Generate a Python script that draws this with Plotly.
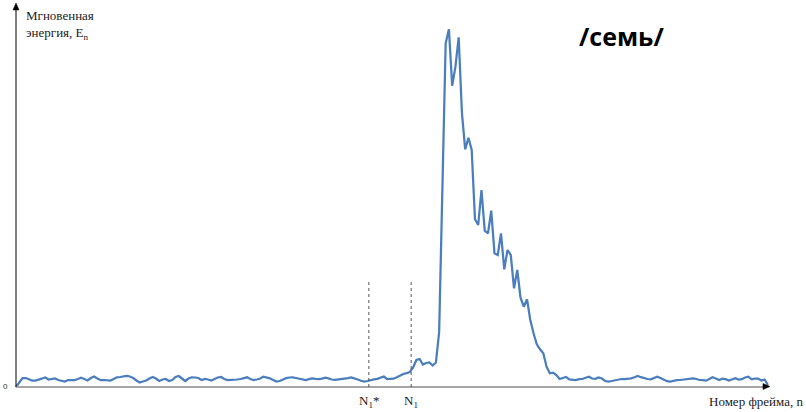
import numpy as np
import plotly.graph_objects as go

# Instantaneous frame energy (arbitrary units), one value per frame
energy = [
    0, 4, 9, 9, 7.5, 6.5, 6.5, 7.5, 8.5, 9.5,
    7.5, 8, 8.5, 7, 6, 5.5, 7, 7, 7, 8,
    9.3, 8, 6.5, 9, 10.5, 8.5, 7, 7, 7, 6.5,
    8, 9.7, 10, 10.5, 11, 10.5, 9, 6.5, 4.5, 5.5,
    6.5, 8.5, 10, 8.5, 6, 7.5, 8, 6, 7, 10,
    11, 8.5, 6, 8.5, 9.7, 9.5, 9, 7, 8, 7.5,
    6.5, 8, 9.5, 10, 8, 7, 7, 7, 7.5, 8,
    8.8, 9.7, 8, 7, 7.5, 8.5, 10.3, 9.5, 8.7, 7,
    5.5, 6, 7.5, 8.8, 9.5, 9.7, 9, 8.3, 7.5, 7,
    7.8, 8.7, 8.2, 7.8, 8.3, 9.3, 8.6, 7.5, 7.2, 7.5,
    7.8, 8.3, 8.8, 9.5, 8.8, 7.5, 6.2, 5.3, 6, 7.2,
    7.6, 8.2, 9, 10.5, 8, 8, 8.3, 9.7, 11.5, 13,
    13.8, 15, 19.5, 27, 28, 22.5, 24, 24.5, 21.5, 24.5,
    55, 185, 343.7, 357.7, 301.3, 320.3, 349.7, 274, 237.7, 249.3,
    237, 167.7, 162, 197, 156.3, 153.7, 176.3, 133.7, 132, 153.7,
    117.7, 137, 132, 98.7, 117, 89.3, 80.3, 87.7, 67, 53.7,
    42.7, 37.7, 33.7, 20.3, 13.7, 14.3, 12, 8, 8.7, 10,
    7.7, 7.2, 7, 7.8, 8, 9.3, 10.3, 8.5, 8.2, 9.5,
    8.5, 6, 5.5, 6, 6.8, 7.6, 8, 8, 8.3, 8.7,
    9.8, 11, 9.8, 8.5, 8, 7.7, 9, 10.3, 9, 7.5,
    5.8, 5.5, 6.3, 6.8, 7, 7.5, 8, 8.3, 8.7, 8,
    7, 6.8, 6.3, 8, 9.7, 8.5, 7, 8.3, 7.8, 6.5,
    7.5, 8.7, 7.5, 7.8, 9.5, 10.3, 7.7, 8.5, 8.5, 6.5,
    7.5, 2,
]
frames = list(range(len(energy)))

# Marked frames: speech onset estimates
marker_frames = [108.4, 121.4]
marker_labels = ["N<sub>1</sub>*", "N<sub>1</sub>"]
marker_top = 105

word_label = "/семь/"
y_title = "Мгновенная<br>энергия, E<sub>n</sub>"
x_title = "Номер фрейма, n"

W, H = 806, 412
SERIF = "Liberation Serif, Times New Roman, serif"


def px(x):
    return x / W


def py(y):
    return 1 - y / H


def tri(points):
    pts = " L ".join(f"{px(a):.5f} {py(b):.5f}" for a, b in points)
    return f"M {pts} Z"


fig = go.Figure()

fig.add_trace(go.Scatter(
    x=frames, y=energy, mode="lines",
    line=dict(color="#4a7ebd", width=2.25),
    hoverinfo="skip", showlegend=False,
))

shapes = []
# horizontal axis line with arrow tip
shapes.append(dict(type="line", xref="paper", yref="paper",
                   x0=px(16), x1=px(765), y0=py(387), y1=py(387),
                   line=dict(color="#a6a6a6", width=2)))
shapes.append(dict(type="path", xref="paper", yref="paper",
                   path=tri([(763, 383.5), (770, 386.5), (763, 389.5)]),
                   fillcolor="black", line=dict(color="black", width=0.5)))
# vertical axis line with arrow tip
shapes.append(dict(type="line", xref="paper", yref="paper",
                   x0=px(16), x1=px(16), y0=py(387), y1=py(8),
                   line=dict(color="black", width=1)))
shapes.append(dict(type="path", xref="paper", yref="paper",
                   path=tri([(13, 10), (16, 3), (19, 10)]),
                   fillcolor="black", line=dict(color="black", width=0.5)))
# dashed markers
for f in marker_frames:
    shapes.append(dict(type="line", xref="x", yref="y",
                       x0=f, x1=f, y0=0, y1=marker_top,
                       line=dict(color="#555555", width=1, dash="dot")))

annotations = []
annotations.append(dict(xref="paper", yref="paper", x=px(24), y=py(6),
                        xanchor="left", yanchor="top", align="left",
                        text=y_title, showarrow=False,
                        font=dict(family=SERIF, size=13, color="#222222")))
annotations.append(dict(xref="paper", yref="paper", x=px(10), y=py(386),
                        xanchor="right", yanchor="middle", text="0",
                        showarrow=False,
                        font=dict(family="Liberation Sans, Arial", size=8, color="#333333")))
for f, lab in zip(marker_frames, marker_labels):
    annotations.append(dict(xref="x", yref="paper", x=f, y=py(401),
                            xanchor="center", yanchor="middle", text=lab,
                            showarrow=False,
                            font=dict(family=SERIF, size=13, color="#222222")))
annotations.append(dict(xref="paper", yref="paper", x=px(805), y=py(401),
                        xanchor="right", yanchor="middle", text=x_title,
                        showarrow=False,
                        font=dict(family=SERIF, size=13, color="#222222")))
annotations.append(dict(xref="paper", yref="paper", x=px(621), y=py(36),
                        xanchor="center", yanchor="middle", text=word_label,
                        showarrow=False,
                        font=dict(family="Open Sans, Liberation Sans, Arial", size=25,
                                  color="black", weight="bold")))

step = 3.255
x0 = -16 / step
fig.update_layout(
    width=W, height=H,
    margin=dict(l=0, r=0, t=0, b=0),
    paper_bgcolor="white", plot_bgcolor="white",
    xaxis=dict(range=[x0, x0 + W / step], visible=False, fixedrange=True),
    yaxis=dict(range=[-25, 387], visible=False, fixedrange=True),
    shapes=shapes, annotations=annotations,
)

fig.write_html("out.html")
